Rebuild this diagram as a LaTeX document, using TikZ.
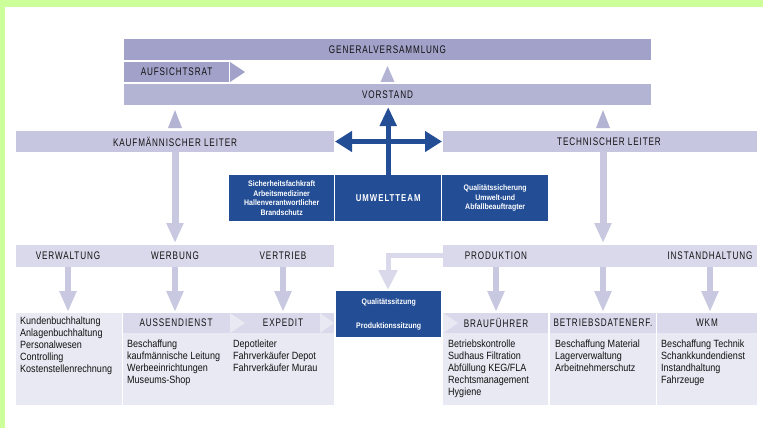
\documentclass[tikz,border=0pt]{standalone}
\usepackage{fontspec}
\setmainfont{Liberation Sans}[FakeStretch=0.86]
\newfontfamily\hfont{Liberation Sans}[FakeStretch=0.74,LetterSpace=8]
\newfontfamily\bxfont{Liberation Sans}[FakeStretch=0.87]
\newfontfamily\ubfont{Liberation Sans}[FakeStretch=0.78,LetterSpace=10]
\usetikzlibrary{arrows.meta,calc}
\definecolor{limec}{HTML}{CCFF99}
\definecolor{gvc}{HTML}{A1A1C9}
\definecolor{vorc}{HTML}{B3B3D4}
\definecolor{leitc}{HTML}{C6C6E0}
\definecolor{abtc}{HTML}{D9D9EB}
\definecolor{panelc}{HTML}{E9E9F3}
\definecolor{headc}{HTML}{D9D9EB}
\definecolor{bluec}{HTML}{234E96}
\definecolor{arrc}{HTML}{C8C8E0}
\definecolor{txtc}{HTML}{111111}
\tikzset{
  bar/.style={rectangle, inner sep=0pt, outer sep=0pt, anchor=north west, text=txtc,
    font=\hfont\fontsize{11}{12}\selectfont},
  lbl/.style={inner sep=0pt, text=txtc, font=\hfont\fontsize{11}{12}\selectfont},
  body/.style={inner sep=0pt, anchor=north west, align=left, text=txtc,
    font=\fontsize{10.5}{12}\selectfont},
  bluebox/.style={rectangle, inner sep=0pt, anchor=north west, fill=bluec, text=white,
    align=center, font=\bxfont\bfseries\fontsize{8}{9.7}\selectfont,
    minimum height=46pt},
  bigarr/.style={draw=arrc, line width=7pt, -{Triangle[width=16pt,length=20pt]}},
  smallarr/.style={draw=arrc, line width=6pt, -{Triangle[width=16pt,length=21pt]}},
  bluearr/.style={draw=bluec, line width=5pt},
  tri/.style={fill=vorc},
  chev/.style={fill=panelc},
}
\begin{document}
\begin{tikzpicture}[x=1pt,y=-1pt]
\useasboundingbox (0,0) rectangle (763,428);
\fill[white] (0,0) rectangle (763,428);
\fill[limec] (0,0) rectangle (763,7);
\fill[limec] (0,0) rectangle (5,428);

% top level
\node[bar, fill=gvc, minimum width=527pt, minimum height=21pt] (gv) at (124,39) {GENERALVERSAMMLUNG};
\node[bar, fill=gvc, minimum width=105pt, minimum height=20pt] (ar) at (124,62) {AUFSICHTSRAT};
\fill[gvc] (ar.north east) ++(1,0) -- ++(0,20) -- ($(ar.east)+(16,0)$) -- cycle;
\node[bar, fill=vorc, minimum width=527pt, minimum height=21pt] (vor) at (124,84) {VORSTAND};
\fill[tri] ($(vor.north)+(-7,-2)$) -- ($(vor.north)+(7,-2)$) -- ($(vor.north)+(0,-18)$) -- cycle;

% leaders
\node[bar, fill=leitc, minimum width=318pt, minimum height=21pt] (kl) at (16,131) {KAUFMÄNNISCHER LEITER};
\node[bar, fill=leitc, minimum width=314pt, minimum height=21pt] (tl) at (443,131) {\hspace{18pt}TECHNISCHER LEITER};
\coordinate (ka) at (175,0);
\coordinate (ta) at (603,0);
\fill[tri] ($(ka |- kl.north)+(-7,-3)$) -- ($(ka |- kl.north)+(7,-3)$) -- ($(ka |- vor.south)+(0,5)$) -- cycle;
\fill[tri] ($(ta |- tl.north)+(-7,-3)$) -- ($(ta |- tl.north)+(7,-3)$) -- ($(ta |- vor.south)+(0,5)$) -- cycle;

% blue boxes
\node[bluebox, minimum width=105pt] (sf) at (229,175) {Sicherheitsfachkraft\\Arbeitsmediziner\\Hallenverantwortlicher\\Brandschutz};
\node[bluebox, minimum width=106pt, font=\ubfont\bfseries\fontsize{10}{11}\selectfont] (umw) at (335,175) {UMWELTTEAM};
\node[bluebox, minimum width=106pt] (qs) at (442,175) {Qualitätssicherung\\Umwelt-und\\Abfallbeauftragter};
\draw[bluearr, -{Triangle[width=16pt,length=19pt]}] (umw.north) -- ($(umw.north |- vor.south)+(0,2)$);
\draw[bluearr, {Triangle[width=20pt,length=17pt]}-{Triangle[width=20pt,length=17pt]}]
  ($(kl.east)+(1,0)$) -- ($(tl.west)+(-1,0)$);

% departments
\node[bar, fill=abtc, minimum width=318pt, minimum height=22pt] (vw) at (16,245) {};
\node[bar, fill=abtc, minimum width=314pt, minimum height=22pt] (pr) at (443,245) {};
\node[lbl] (verw) at (68,256) {VERWALTUNG};
\node[lbl] (werb) at (175,256) {WERBUNG};
\node[lbl] (vert) at (283,256) {VERTRIEB};
\node[lbl] (prod) at (496,256) {PRODUKTION};
\node[lbl] (inst) at (710,256) {INSTANDHALTUNG};
\draw[bigarr] (ka |- kl.south) -- ($(ka |- vw.north)+(0,-2)$);
\draw[bigarr] (ta |- tl.south) -- ($(ta |- pr.north)+(0,-2)$);

% bottom panels
\node[bar, fill=panelc, minimum width=106pt, minimum height=92pt] (p1) at (16,313) {};
\node[bar, fill=panelc, minimum width=211pt, minimum height=92pt] (p2) at (123,313) {};
\node[bar, fill=headc, minimum width=211pt, minimum height=20pt] (h2) at (123,313) {};
\node[bar, fill=panelc, minimum width=105pt, minimum height=92pt] (p3) at (443,313) {};
\node[bar, fill=headc, minimum width=105pt, minimum height=20pt] (h3) at (443,313) {};
\node[bar, fill=panelc, minimum width=106pt, minimum height=92pt] (p4) at (550,313) {};
\node[bar, fill=headc, minimum width=106pt, minimum height=20pt] (h4) at (550,313) {};
\node[bar, fill=panelc, minimum width=100pt, minimum height=92pt] (p5) at (657,313) {};
\node[bar, fill=headc, minimum width=100pt, minimum height=20pt] (h5) at (657,313) {};
\fill[chev] (230,313) -- (230,333) -- (245,323) -- cycle;
\fill[chev] (320,313) -- (320,333) -- (334,323) -- cycle;
\fill[chev] (443,313) -- (443,333) -- (458,323) -- cycle;
\node[lbl] (ad) at (176,323) {AUSSENDIENST};
\node[lbl] (ex) at (283,323) {EXPEDIT};
\node[lbl] (bf) at (496,323) {BRAUFÜHRER};
\node[lbl] (bd) at (603,323) {BETRIEBSDATENERF.};
\node[lbl] (wkm) at (707,323) {WKM};

\draw[smallarr] (verw |- vw.south) -- ($(verw |- p1.north)+(0,-1)$);
\draw[smallarr] (werb |- vw.south) -- ($(werb |- p2.north)+(0,-1)$);
\draw[smallarr] (vert |- vw.south) -- ($(vert |- p2.north)+(0,-1)$);
\draw[smallarr] (prod |- pr.south) -- ($(prod |- p3.north)+(0,-1)$);
\draw[smallarr] (ta |- pr.south) -- ($(ta |- p4.north)+(0,-1)$);
\draw[smallarr] (inst |- pr.south) -- ($(inst |- p5.north)+(0,-1)$);

% Qualitaetssitzung
\node[bluebox, minimum width=105pt, font=\bxfont\bfseries\fontsize{8}{24}\selectfont] (qz) at (336,291) {Qualitätssitzung\\Produktionssitzung};
\coordinate (bend) at (388,255);
\draw[draw=abtc, line width=5pt, -{Triangle[width=18pt,length=20pt]}]
  ($(pr.west)+(0,-1)$) -- (bend) -- ($(bend |- qz.north)+(0,-1)$);

% texts
\node[body] (t1) at (20,317) {Kundenbuchhaltung\\Anlagenbuchhaltung\\Personalwesen\\Controlling\\Kostenstellenrechnung};
\node[body] (t2) at (127,340) {Beschaffung\\kaufmännische Leitung\\Werbeeinrichtungen\\Museums-Shop};
\node[body] (t3) at (233,340) {Depotleiter\\Fahrverkäufer Depot\\Fahrverkäufer Murau};
\node[body] (t4) at (448,340) {Betriebskontrolle\\Sudhaus Filtration\\Abfüllung KEG/FLA\\Rechtsmanagement\\Hygiene};
\node[body] (t5) at (555,340) {Beschaffung Material\\Lagerverwaltung\\Arbeitnehmerschutz};
\node[body] (t6) at (661,340) {Beschaffung Technik\\Schankkundendienst\\Instandhaltung\\Fahrzeuge};
\end{tikzpicture}
\end{document}
